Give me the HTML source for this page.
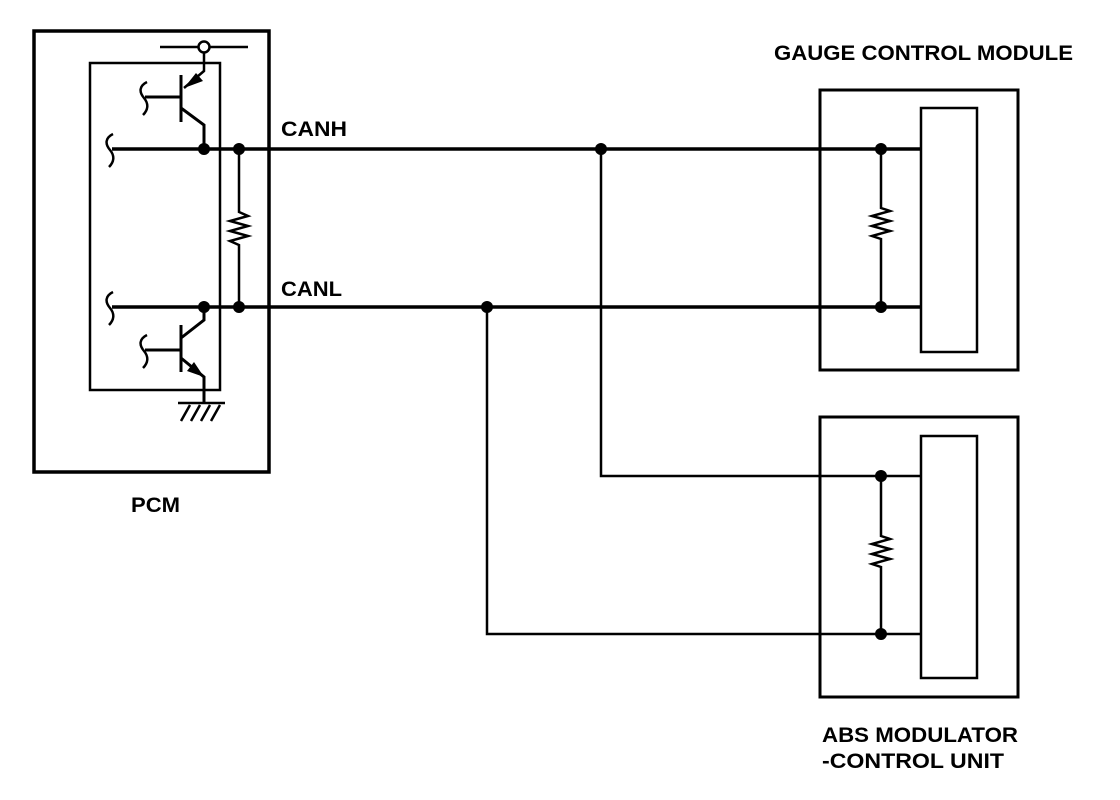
<!DOCTYPE html>
<html><head><style>body{margin:0;background:#fff}svg{display:block}</style></head>
<body>
<svg width="1120" height="800" viewBox="0 0 1120 800" xmlns="http://www.w3.org/2000/svg">
<g fill="none" stroke="#000" stroke-width="3">
<rect x="34" y="31" width="235" height="441" stroke-width="3.5"/>
<rect x="90" y="63" width="130" height="327" stroke-width="2.5"/>
<rect x="820" y="90" width="198" height="280"/>
<rect x="921" y="108" width="56" height="244" stroke-width="2.5"/>
<rect x="820" y="417" width="198" height="280"/>
<rect x="921" y="436" width="56" height="242" stroke-width="2.5"/>
<path d="M112 149H921M112 307H921" stroke-width="3.5"/>
<path d="M601 149V476H921M487 307V634H921" stroke-width="2.5"/>
<path d="M239 149V212l9 4-18 5 18 5-18 5 18 5-18 5 9 4V307" stroke-width="2.5"/>
<path d="M881 149V208l9 3-18 5 18 5-18 5 18 5-18 5 9 3V307" stroke-width="2.5"/>
<path d="M881 476V536l9 3-18 5 18 5-18 5 18 5-18 5 9 3V634" stroke-width="2.5"/>
<path d="M160 47H248M204 52V71L184 88" stroke-width="2.5"/>
<path d="M181 75V122M181 108L204 125V149M145 97H181" stroke-width="3"/>
<path d="M181 325V372M181 338L204 320V307M145 350H181M181 358L204 377V403" stroke-width="3"/>
<path d="M178 403H225M181 421l9-16M191 421l9-16M201 421l9-16M211 421l9-16" stroke-width="2.5"/>
<path d="M113 134c-8 4-8 10 -3 16c5 6 4 12 -1 17M113 292c-8 4-8 10 -3 16c5 6 4 12 -1 17M147 82c-8 4-8 10 -3 16c5 6 4 12 -1 17M147 335c-8 4-8 10 -3 16c5 6 4 12 -1 17" stroke-width="2.5"/>
</g>
<circle cx="204" cy="47" r="5.5" fill="#fff" stroke="#000" stroke-width="2.5"/>
<path d="M184 88l12-15 7 8z M204 377l-17-6 7-9z" fill="#000"/>
<g fill="#000">
<circle cx="204" cy="149" r="6"/><circle cx="239" cy="149" r="6"/>
<circle cx="204" cy="307" r="6"/><circle cx="239" cy="307" r="6"/>
<circle cx="601" cy="149" r="6"/><circle cx="487" cy="307" r="6"/>
<circle cx="881" cy="149" r="6"/><circle cx="881" cy="307" r="6"/>
<circle cx="881" cy="476" r="6"/><circle cx="881" cy="634" r="6"/>
</g>
<g font-family="Liberation Sans, sans-serif" font-weight="bold" font-size="21" fill="#000">
<text x="774" y="60" textLength="299" lengthAdjust="spacingAndGlyphs">GAUGE CONTROL MODULE</text>
<text x="281" y="136" textLength="66" lengthAdjust="spacingAndGlyphs">CANH</text>
<text x="281" y="296" textLength="61" lengthAdjust="spacingAndGlyphs">CANL</text>
<text x="131" y="512" textLength="49" lengthAdjust="spacingAndGlyphs">PCM</text>
<text x="822" y="742" textLength="196" lengthAdjust="spacingAndGlyphs">ABS MODULATOR</text>
<text x="822" y="768" textLength="182" lengthAdjust="spacingAndGlyphs">-CONTROL  UNIT</text>
</g>
</svg>
</body></html>
